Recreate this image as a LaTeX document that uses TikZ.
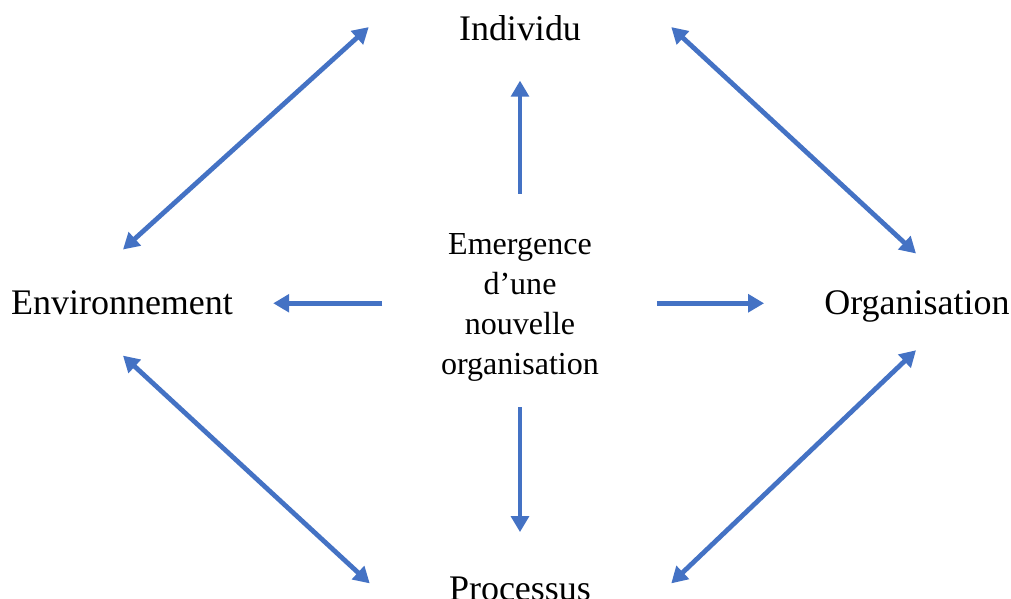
\documentclass[tikz,border=0pt]{standalone}
\usepackage{fontspec}
\setmainfont{Liberation Serif}
\usepackage[rgb,svgnames]{xcolor}
\usepackage{tikz}
\usetikzlibrary{calc,arrows.meta}
\definecolor{arrblue}{RGB}{68,114,196}

\begin{document}
\begin{tikzpicture}[
T1/.style={inner sep=0pt, anchor=base, font=\fontsize{25.6}{30}\selectfont},
T2/.style={inner sep=0pt, align=center, font=\fontsize{22.8}{28.45}\selectfont},
A1/.style={draw=arrblue, line width=3.4pt, -{Triangle[length=0.4cm, width=0.44cm]}},
A2/.style={draw=arrblue, line width=3.4pt, {Triangle[length=0.4cm, width=0.44cm]}-{Triangle[length=0.4cm, width=0.44cm]}},
]
	\useasboundingbox (0,0) rectangle (25.275,14.975);
	\node[
	T2,
	] (Emerg) 
	at (13.0,7.3)
	{Emergence\\d’une\\nouvelle\\organisation};
	\node[
	T1,
	] (Indiv) 
	at ($ (Emerg) + (0,6.65) $)
	{Individu};
	\node[
	T1,
	] (Envir) 
	at ($ (Emerg) + (-9.95,-0.2) $)
	{Environnement};
	\node[
	T1,
	] (Organ) 
	at ($ (Emerg) + (9.925,-0.2) $)
	{Organisation};
	\node[
	T1,
	] (Proc) 
	at ($ (Emerg) + (0,-7.35) $)
	{Processus};
	
	% du centre vers les quatre poles
	\draw[A1, shorten <=0.975cm, shorten >=0.975cm] (Emerg.north) -- (Indiv.south);
	\draw[A1, shorten <=1.46cm, shorten >=1.0cm] (Emerg.west |- Envir.east) -- (Envir.east);
	\draw[A1, shorten <=1.44cm, shorten >=1.5cm] (Emerg.east |- Envir.east) -- (Organ.west |- Envir.east);
	\draw[A1, shorten <=0.65cm, shorten >=1.125cm] (Emerg.south) -- (Proc.north);
	
	% liens entre les poles
	\draw[A2] ($ (Indiv.west) + (-2.25,0.04) $) -- ($ (Envir.north) + (0.025,1.035) $);
	\draw[A2] ($ (Indiv.east) + (2.25,0.04) $) -- ($ (Organ.north) + (-0.025,0.935) $);
	\draw[A2] ($ (Envir.south) + (0.025,-1.0) $) -- ($ (Proc.west) + (-1.975,0.15) $);
	\draw[A2] ($ (Organ.south) + (-0.025,-0.68) $) -- ($ (Proc.east) + (2.0,0.15) $);
\end{tikzpicture}
\end{document}
